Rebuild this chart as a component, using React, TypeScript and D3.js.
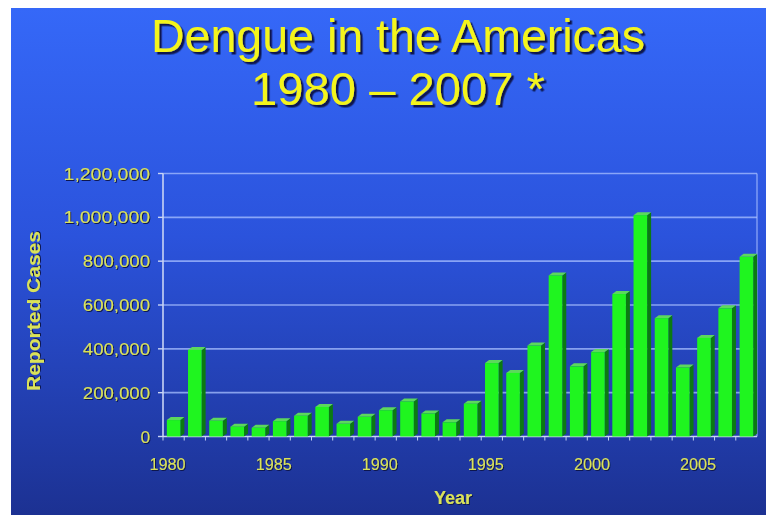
import { useEffect, useRef } from "react"
import * as d3 from "d3"

const years = [
  1980, 1981, 1982, 1983, 1984, 1985, 1986, 1987, 1988, 1989, 1990, 1991, 1992, 1993,
  1994, 1995, 1996, 1997, 1998, 1999, 2000, 2001, 2002, 2003, 2004, 2005, 2006, 2007,
]
const cases = [
  75000, 395000, 72000, 45000, 40000, 70000, 95000, 135000, 58000, 90000, 120000, 160000, 105000, 65000,
  150000, 335000, 290000, 415000, 735000, 320000, 385000, 650000, 1010000, 540000, 315000, 450000, 585000, 820000,
]
const yTicks = [0, 200000, 400000, 600000, 800000, 1000000, 1200000]
const xLabels = [1980, 1985, 1990, 1995, 2000, 2005]

export default function App() {
  const svgRef = useRef<SVGSVGElement>(null)

  useEffect(() => {
    if (!svgRef.current) return
    const width = 766
    const height = 515
    const svg = d3.select(svgRef.current).attr("width", width).attr("height", height)
    svg.selectAll("*").remove()

    const defs = svg.append("defs")
    const grad = defs.append("linearGradient").attr("id", "bg").attr("x1", 0).attr("y1", 0).attr("x2", 0).attr("y2", 1)
    grad.append("stop").attr("offset", "0%").attr("stop-color", "#3568f8")
    grad.append("stop").attr("offset", "45%").attr("stop-color", "#2b53dc")
    grad.append("stop").attr("offset", "100%").attr("stop-color", "#1c3192")

    // text shadows
    defs.append("filter").attr("id", "shBig").attr("x", "-5%").attr("y", "-20%").attr("width", "110%").attr("height", "140%")
      .append("feDropShadow").attr("dx", 2.5).attr("dy", 2.5).attr("stdDeviation", 0.6)
      .attr("flood-color", "#0a1450").attr("flood-opacity", 1)
    defs.append("filter").attr("id", "shSmall").attr("x", "-10%").attr("y", "-30%").attr("width", "120%").attr("height", "160%")
      .append("feDropShadow").attr("dx", 1).attr("dy", 1).attr("stdDeviation", 0.4)
      .attr("flood-color", "#0a1450").attr("flood-opacity", 1)

    svg.append("rect").attr("width", width).attr("height", height).attr("fill", "#fff")
    svg.append("rect").attr("x", 11).attr("y", 8).attr("width", width - 11).attr("height", height - 8).attr("fill", "url(#bg)")

    const left = 163
    const right = 757
    const top = 173.5
    const bottom = 436.5

    const x = d3.scaleBand<number>().domain(years).range([left, right]).paddingInner(0.36).paddingOuter(0.18)
    const y = d3.scaleLinear().domain([0, 1200000]).range([bottom, top])

    // grid
    svg.append("g")
      .selectAll("line")
      .data(yTicks.slice(1))
      .join("line")
      .attr("x1", left)
      .attr("x2", right)
      .attr("y1", (d) => y(d))
      .attr("y2", (d) => y(d))
      .attr("stroke", "#a9c0ff")
      .attr("stroke-opacity", 0.75)
      .attr("stroke-width", 1.6)

    // right border
    svg.append("line").attr("x1", right).attr("x2", right).attr("y1", top).attr("y2", bottom)
      .attr("stroke", "#a9c0ff").attr("stroke-opacity", 0.7).attr("stroke-width", 1.4)

    // axes
    const axisColor = "#c8d4f4"
    svg.append("line").attr("x1", left).attr("x2", left).attr("y1", top).attr("y2", bottom)
      .attr("stroke", axisColor).attr("stroke-width", 1.6)
    svg.append("line").attr("x1", left).attr("x2", right).attr("y1", bottom).attr("y2", bottom)
      .attr("stroke", axisColor).attr("stroke-width", 1.6)
    svg.append("g").selectAll("line").data(yTicks).join("line")
      .attr("x1", left - 5).attr("x2", left).attr("y1", (d) => y(d)).attr("y2", (d) => y(d))
      .attr("stroke", axisColor).attr("stroke-width", 1.4)
    svg.append("g").selectAll("line").data(years).join("line")
      .attr("x1", (d) => (x(d) as number) - x.step() * 0.18)
      .attr("x2", (d) => (x(d) as number) - x.step() * 0.18)
      .attr("y1", bottom).attr("y2", bottom + 4)
      .attr("stroke", axisColor).attr("stroke-width", 1)

    // 3D bars
    const bw = x.bandwidth()
    const dx = 4
    const dy = 3
    const bars = svg.append("g").selectAll("g").data(years).join("g")
    bars.append("path")
      .attr("d", (d, i) => {
        const x0 = (x(d) as number) + bw
        const y0 = y(cases[i])
        return `M${x0},${y0}L${x0 + dx},${y0 - dy}L${x0 + dx},${bottom - dy}L${x0},${bottom}Z`
      })
      .attr("fill", "#0b7a12")
    bars.append("path")
      .attr("d", (d, i) => {
        const x0 = x(d) as number
        const y0 = y(cases[i])
        return `M${x0},${y0}L${x0 + dx},${y0 - dy}L${x0 + bw + dx},${y0 - dy}L${x0 + bw},${y0}Z`
      })
      .attr("fill", "#5cd85c")
    bars.append("rect")
      .attr("x", (d) => x(d) as number)
      .attr("y", (d, i) => y(cases[i]))
      .attr("width", bw)
      .attr("height", (d, i) => bottom - y(cases[i]))
      .attr("fill", "#1ff51f")

    const label = "#d9e25a"
    const font = "'Liberation Sans', Arial, sans-serif"

    const addText = (
      tx: number,
      ty: number,
      txt: string,
      size: number,
      anchor: string,
      color: string,
      opts: { bold?: boolean; len?: number; rotate?: number; big?: boolean } = {},
    ) => {
      const t = svg.append("text")
        .attr("text-anchor", anchor)
        .attr("font-family", font)
        .attr("font-size", size)
        .attr("font-weight", opts.bold ? "bold" : "normal")
        .attr("fill", color)
        .attr("filter", opts.big ? "url(#shBig)" : "url(#shSmall)")
        .text(txt)
      if (opts.rotate) {
        t.attr("transform", `translate(${tx},${ty}) rotate(${opts.rotate})`)
      } else {
        t.attr("x", tx).attr("y", ty)
      }
      if (opts.len) t.attr("textLength", opts.len).attr("lengthAdjust", "spacingAndGlyphs")
    }

    // title
    addText(398, 52, "Dengue in the Americas", 46, "middle", "#f4f51c", { len: 494, big: true })
    addText(398, 105, "1980 \u2013 2007 *", 46, "middle", "#f4f51c", { len: 294, big: true })

    // y tick labels
    yTicks.forEach((t) => {
      const s = d3.format(",")(t)
      addText(150, y(t) + 6, s, 16, "end", label, { len: s.length * 9.6 })
    })

    // x labels
    xLabels.forEach((yr) => {
      const cx = (x(yr) as number) + bw / 2 - 6
      addText(cx, 470, String(yr), 16, "middle", label, { len: 36 })
    })

    addText(453, 504, "Year", 18, "middle", label, { bold: true })
    addText(40, 311, "Reported Cases", 18, "middle", label, { bold: true, rotate: -90, len: 160 })
  }, [])

  return <svg ref={svgRef} style={{ position: "absolute", left: 0, top: 0 }} />
}
